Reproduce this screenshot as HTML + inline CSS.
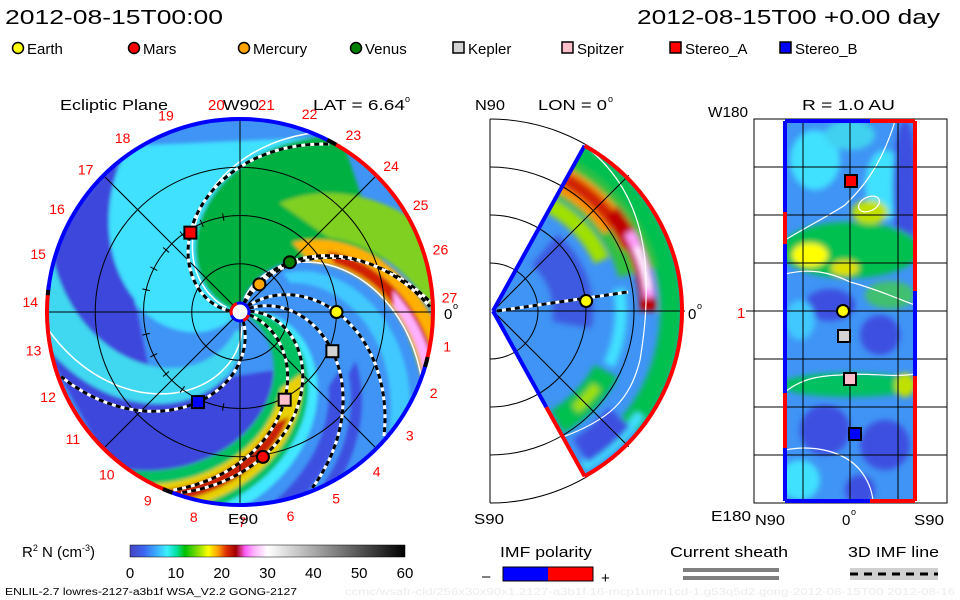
<!DOCTYPE html>
<html><head><meta charset="utf-8"><style>
html,body{margin:0;padding:0;background:#fff;}
svg{display:block;font-family:"Liberation Sans",sans-serif;}
</style></head><body>
<svg id="root" width="960" height="600" viewBox="0 0 960 600" xmlns="http://www.w3.org/2000/svg">
<defs>
  <filter id="blur2" x="-10%" y="-10%" width="120%" height="120%"><feGaussianBlur stdDeviation="1.8"/></filter>
  <filter id="blur3" x="-20%" y="-20%" width="140%" height="140%"><feGaussianBlur stdDeviation="3"/></filter>
  <clipPath id="eclClip"><circle cx="240" cy="312" r="193"/></clipPath>
  <clipPath id="merClip"><path id="merWedgeP" d=""/></clipPath>
  <clipPath id="rClip"><rect x="785" y="121" width="130" height="380"/></clipPath>
  <linearGradient id="cbar" x1="0" x2="1" y1="0" y2="0">
    <stop offset="0" stop-color="#4646c0"/><stop offset="0.05" stop-color="#3c64f0"/>
    <stop offset="0.1" stop-color="#3cb4ff"/><stop offset="0.135" stop-color="#3cf0ff"/>
    <stop offset="0.17" stop-color="#00e0a0"/><stop offset="0.2" stop-color="#00c000"/>
    <stop offset="0.25" stop-color="#90e000"/><stop offset="0.285" stop-color="#ffff00"/>
    <stop offset="0.32" stop-color="#ffa000"/><stop offset="0.35" stop-color="#e03000"/>
    <stop offset="0.385" stop-color="#a00000"/><stop offset="0.42" stop-color="#ff60ff"/>
    <stop offset="0.45" stop-color="#ffb0ff"/><stop offset="0.5" stop-color="#ffffff"/>
    <stop offset="1" stop-color="#000000"/>
  </linearGradient>
</defs>

<text x="5" y="24" font-size="20" textLength="218" lengthAdjust="spacingAndGlyphs">2012-08-15T00:00</text>
<text x="637" y="24" font-size="20" textLength="303" lengthAdjust="spacingAndGlyphs">2012-08-15T00 +0.00 day</text>
<g id="legend"></g>

<g id="ecl">
  <g clip-path="url(#eclClip)">
    <circle cx="240" cy="312" r="193" fill="#3f94f5"/>
    <g id="eclBands" filter="url(#blur2)"></g>
    <g id="eclContours"></g>
  </g>
  <g id="eclGrid" stroke="#000" stroke-width="1" fill="none"></g>
  <g id="eclLines"></g>
  <g id="eclRim"></g>
  <g id="eclLabels" font-size="14" fill="#ff0000"></g>
  <g id="eclMarkers"></g>
</g>
<text x="60" y="110" font-size="15" textLength="108" lengthAdjust="spacingAndGlyphs">Ecliptic Plane</text>
<text x="208" y="110" font-size="15" fill="#ff0000">20</text>
<text x="223" y="110" font-size="15" textLength="36" lengthAdjust="spacingAndGlyphs">W90</text>
<text x="258" y="110" font-size="15" fill="#ff0000">21</text>
<text x="313" y="110" font-size="15" textLength="92" lengthAdjust="spacingAndGlyphs">LAT = 6.64</text>
<text x="405" y="102" font-size="9">o</text>
<text x="444" y="319" font-size="15">0</text><text x="453" y="309" font-size="9">o</text>
<text x="228" y="524" font-size="15" textLength="30" lengthAdjust="spacingAndGlyphs">E90</text>

<g id="mer">
  <g clip-path="url(#merClip)">
    <rect x="480" y="100" width="220" height="420" fill="#3f94f5"/>
    <g id="merBands" filter="url(#blur3)"></g>
    <g id="merContours"></g>
  </g>
  <g id="merGrid" stroke="#000" stroke-width="1" fill="none"></g>
  <g id="merRim"></g>
  <g id="merMarkers"></g>
</g>
<text x="475" y="110" font-size="15" textLength="30" lengthAdjust="spacingAndGlyphs">N90</text>
<text x="538" y="110" font-size="15" textLength="69" lengthAdjust="spacingAndGlyphs">LON = 0</text>
<text x="608" y="102" font-size="9">o</text>
<text x="688" y="319" font-size="15">0</text><text x="697" y="309" font-size="9">o</text>
<text x="474" y="524" font-size="15" textLength="30" lengthAdjust="spacingAndGlyphs">S90</text>

<g id="rpan">
  <g clip-path="url(#rClip)">
    <rect x="785" y="121" width="130" height="380" fill="#3f94f5"/>
    <g id="rBands" filter="url(#blur3)"></g>
    <g id="rContours" stroke="#fff" stroke-width="1.2" fill="none">
      <path d="M785 240 C810 225 830 215 845 205 C860 190 880 170 895 121"/>
      <path d="M785 274 C810 268 830 272 850 282 C880 290 900 300 915 305"/>
      <ellipse cx="869" cy="204" rx="11" ry="7" transform="rotate(-25 869 204)"/>
      <path d="M785 392 C800 380 815 376 840 375 C870 372 890 378 915 374"/>
      <path d="M785 450 C815 444 845 452 860 470 C868 480 872 490 873 501"/>
    </g>
  </g>
  <g id="rGrid" stroke="#000" stroke-width="1" fill="none"></g>
  <g id="rRim"></g>
  <g id="rMarkers"></g>
</g>
<text x="708" y="117" font-size="15" textLength="40" lengthAdjust="spacingAndGlyphs">W180</text>
<text x="802" y="110" font-size="15" textLength="93" lengthAdjust="spacingAndGlyphs">R = 1.0 AU</text>
<text x="737" y="318" font-size="15" fill="#ff0000">1</text>
<text x="711" y="521" font-size="15" textLength="40" lengthAdjust="spacingAndGlyphs">E180</text>
<text x="755" y="525" font-size="15" textLength="30" lengthAdjust="spacingAndGlyphs">N90</text>
<text x="842" y="525" font-size="15">0</text><text x="851" y="515" font-size="9">o</text>
<text x="914" y="525" font-size="15" textLength="30" lengthAdjust="spacingAndGlyphs">S90</text>

<text x="22" y="557" font-size="15">R<tspan dy="-6" font-size="9">2</tspan><tspan dy="6"> N (cm</tspan><tspan dy="-6" font-size="9">-3</tspan><tspan dy="6">)</tspan></text>
<rect x="130" y="545" width="275" height="12" fill="url(#cbar)" stroke="#000" stroke-width="0.5"/>
<g id="cbTicks" font-size="15"></g>

<text x="500" y="557" font-size="15" textLength="92" lengthAdjust="spacingAndGlyphs">IMF polarity</text>
<text x="482" y="581" font-size="15">–</text>
<rect x="503" y="567" width="45" height="14" fill="#0000ff"/>
<rect x="548" y="567" width="45" height="14" fill="#ff0000"/>
<rect x="503" y="567" width="90" height="14" fill="none" stroke="#000" stroke-width="1"/>
<text x="601" y="583" font-size="15">+</text>

<text x="670" y="557" font-size="15" textLength="118" lengthAdjust="spacingAndGlyphs">Current sheath</text>
<rect x="683" y="568" width="96" height="4" fill="#808080"/>
<rect x="683" y="576" width="96" height="4" fill="#808080"/>

<text x="848" y="557" font-size="15" textLength="91" lengthAdjust="spacingAndGlyphs">3D IMF line</text>
<rect x="850" y="568" width="88" height="12" fill="#d0d0d0"/>
<line x1="850" y1="574" x2="938" y2="574" stroke="#000" stroke-width="3" stroke-dasharray="8 6"/>

<text x="5" y="595" font-size="10" textLength="292" lengthAdjust="spacingAndGlyphs">ENLIL-2.7 lowres-2127-a3b1f WSA_V2.2 GONG-2127</text>
<text x="345" y="595" font-size="10" fill="#ececec" textLength="610" lengthAdjust="spacingAndGlyphs">ccmc/wsafr-cld/256x30x90x1.2127-a3b1f.16-mcp1umn1cd-1.g53q5d2.gong-2012-08-15T00   2012-08-16</text>
</svg>

<script>
// ---- data ----
const bodyNames = ["Earth","Mars","Mercury","Venus","Kepler","Spitzer","Stereo_A","Stereo_B"];
const bodyColors = ["#ffff00","#ff0000","#ffa500","#008000","#d3d3d3","#ffc0cb","#ff0000","#0000ff"];
const bodyShapes = ["c","c","c","c","s","s","s","s"];
const bodyRadiusAU = [1.00, 1.52, 0.35, 0.73, 1.04, 1.02, 0.97, 1.03];
const bodyLonDeg = [0, -81, 55, 45, -23, -63, 122, -115];
const lineWindingDegPerAU = [42, 60, 32, 35, 48, 50, 60, 48];
const bodyLatYpx = [311, null, null, null, 336, 379, 181, 434];
const fieldLineBodies = ["Earth","Mars","Mercury","Venus","Kepler","Spitzer","Stereo_A","Stereo_B"];
const carringtonLabels = [1,2,3,4,5,6,7,8,9,10,11,12,13,14,15,16,17,18,19,22,23,24,25,26,27];
const colorbarTicks = [0,10,20,30,40,50,60];
const colorbarMax = 60;
const bandWinding = 50;
const bandFootFrom = [165, 228, 265, 292, 335, 343, 347, 5, 20, 82, 100, 80, 82, 82, 60, 35];
const bandFootTo   = [230, 265, 292, 335, 365, 360, 355, 12, 30, 165, 130, 98, 90, 88, 72, 42];
const bandRMin     = [0.05, 1.1, 0.2, 0.7, 0.1, 0.9, 1.2, 0.1, 1.2, 0.05, 1.2, 0.9, 1.1, 1.6, 0.6, 1.3];
const bandRMax     = [2.1, 2.1, 2.1, 2.1, 2.1, 2.1, 2.1, 2.1, 2.1, 2.1, 2.1, 2.1, 2.1, 2.1, 2.1, 2.1];
const bandColor    = ["#40e0ff","#3c46dc","#40d8f0","#3c46dc","#00c060","#e8d000","#c82000","#40e8ff","#3c50e0","#00b040","#80d020","#ffb000","#d02000","#ffb0ff","#40c8ff","#3c50e0"];
const rimFrom = [173.5, 248, 345, 61.6];
const rimTo   = [248, 345, 421.6, 173.5];
const rimPol  = ["+","-","+","-"];

const NS="http://www.w3.org/2000/svg";
const CX=240, CY=312, S=96.5, RMAX=2.0;
function mk(tag, attrs, parent){const e=document.createElementNS(NS,tag);for(const k in attrs)e.setAttribute(k,attrs[k]);parent.appendChild(e);return e;}
function xy(rAU, phiDeg){const p=phiDeg*Math.PI/180;return [CX+rAU*S*Math.cos(p), CY-rAU*S*Math.sin(p)];}
function spiralPts(footDeg, w, r1, r2){const pts=[];const n=60;for(let i=0;i<=n;i++){const r=r1+(r2-r1)*i/n;pts.push(xy(r, footDeg - w*r));}return pts;}
function ptsStr(p){return p.map(q=>q[0].toFixed(1)+","+q[1].toFixed(1)).join(" ");}

const leg=document.getElementById('legend');
const legX=[12,128,238,350,453,562,670,780];
for(let i=0;i<bodyNames.length;i++){
  let m;
  if(bodyShapes[i]==="c") m=mk('circle',{cx:legX[i]+6,cy:48,r:5.5,fill:bodyColors[i],stroke:'#000','stroke-width':1.5},leg);
  else m=mk('rect',{x:legX[i],y:42,width:11,height:11,fill:bodyColors[i],stroke:'#000','stroke-width':1.5},leg);
  
  
  const t=mk('text',{x:legX[i]+15,y:54,'font-size':15},leg);
  t.textContent=bodyNames[i];
  
  
}

const eb=document.getElementById('eclBands');
for(let i=0;i<bandFootFrom.length;i++){
  const a=spiralPts(bandFootFrom[i],bandWinding,bandRMin[i],bandRMax[i]);
  const b=spiralPts(bandFootTo[i],bandWinding,bandRMin[i],bandRMax[i]).reverse();
  const p=mk('polygon',{points:ptsStr(a.concat(b)),fill:bandColor[i]},eb);
  
  
}
const ec=document.getElementById('eclContours');
[80,168,285].forEach(f=>{
  const p=mk('polyline',{points:ptsStr(spiralPts(f,bandWinding,0.15,2.1)),fill:'none',stroke:'#fff','stroke-width':1.5},ec);
  
  
});

const eg=document.getElementById('eclGrid');
[0.5,1.0,1.5].forEach(r=>mk('circle',{cx:CX,cy:CY,r:r*S},eg));
for(let a=0;a<180;a+=45){const p=xy(RMAX,a),q=xy(RMAX,a+180);mk('line',{x1:p[0],y1:p[1],x2:q[0],y2:q[1]},eg);}
for(let a=100;a<=260;a+=13.33){const p=xy(0.96,a),q=xy(1.04,a);mk('line',{x1:p[0],y1:p[1],x2:q[0],y2:q[1]},eg);}

const el=document.getElementById('eclLines');
fieldLineBodies.forEach(nm=>{
  const i=bodyNames.indexOf(nm);
  const w=lineWindingDegPerAU[i];
  const f=bodyLonDeg[i]+w*bodyRadiusAU[i];
  const pts=ptsStr(spiralPts(f,w,0.1,1.97));
  mk('polyline',{points:pts,fill:'none',stroke:'#fff','stroke-width':3},el);
  const d=mk('polyline',{points:pts,fill:'none',stroke:'#000','stroke-width':3,'stroke-dasharray':'5 4'},el);
  
  
});

const er=document.getElementById('eclRim');
function arcD(cx,cy,r,a1,a2){const p1=[cx+r*Math.cos(a1*Math.PI/180),cy-r*Math.sin(a1*Math.PI/180)],p2=[cx+r*Math.cos(a2*Math.PI/180),cy-r*Math.sin(a2*Math.PI/180)];const large=(a2-a1)>180?1:0;return `M${p1[0]},${p1[1]} A${r},${r} 0 ${large} 0 ${p2[0]},${p2[1]}`;}
for(let i=0;i<rimFrom.length;i++){
  const p=mk('path',{d:arcD(CX,CY,193,rimFrom[i],rimTo[i]),fill:'none',stroke:rimPol[i]==='+'?'#ff0000':'#0000ff','stroke-width':4},er);
  
  
  mk('path',{d:arcD(CX,CY,193,rimFrom[i]-1.5,rimFrom[i]+1.5),fill:'none',stroke:'#000','stroke-width':4},er);
}
mk('circle',{cx:CX,cy:CY,r:9,fill:'#fff',stroke:'#0000ff','stroke-width':3},er);
mk('path',{d:arcD(CX,CY,9,110,200),fill:'none',stroke:'#ff0000','stroke-width':3},er);
mk('path',{d:arcD(CX,CY,9,290,340),fill:'none',stroke:'#ff0000','stroke-width':3},er);

const lab=document.getElementById('eclLabels');
carringtonLabels.forEach(n=>{
  const a=(4+13.33*(27-n))*Math.PI/180;
  const x=CX+210*Math.cos(a), y=CY-210*Math.sin(a);
  const t=mk('text',{x:x,y:y+5,'text-anchor':'middle'},lab);
  t.textContent=String(n);
  
  
});

function marker(g,i,x,y){
  let m;
  if(bodyShapes[i]==='c') m=mk('circle',{cx:x,cy:y,r:6,fill:bodyColors[i],stroke:'#000','stroke-width':2},g);
  else m=mk('rect',{x:x-6,y:y-6,width:12,height:12,fill:bodyColors[i],stroke:'#000','stroke-width':2},g);
  
  
}
const em=document.getElementById('eclMarkers');
for(let i=0;i<bodyNames.length;i++){const p=xy(bodyRadiusAU[i],bodyLonDeg[i]);marker(em,i,p[0],p[1]);}

// ---- meridional panel ----
const MX=493, MY=311, MR=189;
function mp(r,a){return [MX+r*Math.cos(a*Math.PI/180), MY-r*Math.sin(a*Math.PI/180)];}
const c1=mp(MR,61),c2=mp(MR,-61);
document.getElementById('merWedgeP').setAttribute('d',`M${MX},${MY} L${c1[0]},${c1[1]} A${MR},${MR} 0 0 1 ${c2[0]},${c2[1]} Z`);
const mb=document.getElementById('merBands');
function ringArc(g,r,w,a1,a2,col){const p1=mp(r,a2),p2=mp(r,a1);return mk('path',{d:`M${p1[0]},${p1[1]} A${r},${r} 0 0 1 ${p2[0]},${p2[1]}`,fill:'none',stroke:col,'stroke-width':w},g);}
ringArc(mb,178,22,-40,70,'#00c050');
ringArc(mb,180,10,-60,-35,'#40e0ff');
ringArc(mb,150,40,15,70,'#30c040');
ringArc(mb,148,26,35,70,'#ff9000');
ringArc(mb,150,14,25,62,'#d02000');
ringArc(mb,155,16,0,40,'#c00000');
ringArc(mb,157,10,5,30,'#ffa0ff');
ringArc(mb,157,5,8,24,'#ffffff');
ringArc(mb,120,16,25,70,'#a0e000');
ringArc(mb,128,12,-25,10,'#40e0ff');
ringArc(mb,128,26,-60,-28,'#00c050');
ringArc(mb,128,10,-50,-36,'#a0e000');
ringArc(mb,80,40,-10,50,'#3c5ae0');
ringArc(mb,165,28,-58,-40,'#3c50e0');
const mc=mk('path',{d:"M590 150 C620 175 640 210 645 260 C648 300 645 330 640 360 C630 400 610 420 560 438 C545 445 535 452 520 460",fill:'none',stroke:'#fff','stroke-width':1.2},document.getElementById('merContours'));



const mg=document.getElementById('merGrid');
mk('line',{x1:490,y1:119,x2:490,y2:503},mg);
[48,96,144,192].forEach(r=>mk('path',{d:`M490,${MY-r} A${r},${r} 0 0 1 490,${MY+r}`},mg));
mk('line',{x1:MX,y1:MY,x2:MX+192,y2:MY},mg);
[45,-45].forEach(a=>{const p=mp(192,a);mk('line',{x1:MX,y1:MY,x2:p[0],y2:p[1]},mg);});
const mr=document.getElementById('merRim');
mk('path',{d:`M${MX},${MY} L${c1[0]},${c1[1]}`,stroke:'#0000ff','stroke-width':4,fill:'none'},mr);
const mm=mp(110,-61);
mk('path',{d:`M${MX},${MY} L${mm[0]},${mm[1]}`,stroke:'#0000ff','stroke-width':4,fill:'none'},mr);
mk('path',{d:`M${mm[0]},${mm[1]} L${c2[0]},${c2[1]}`,stroke:'#ff0000','stroke-width':4,fill:'none'},mr);
const rimM=mk('path',{d:`M${c1[0]},${c1[1]} A${MR},${MR} 0 0 1 ${c2[0]},${c2[1]}`,stroke:'#ff0000','stroke-width':4,fill:'none'},mr);


const ei=bodyNames.indexOf('Earth');
const ex=MX+bodyRadiusAU[ei]*S*0.965, ey=301;
mk('line',{x1:MX+4,y1:MY,x2:628,y2:292,stroke:'#fff','stroke-width':3},mr);
mk('line',{x1:MX+4,y1:MY,x2:628,y2:292,stroke:'#000','stroke-width':3,'stroke-dasharray':'5 4'},mr);
marker(document.getElementById('merMarkers'),ei,ex,ey);

// ---- R = 1 AU panel ----
const rb=document.getElementById('rBands');
const rPatches=[
 [815,160,25,30,'#40e0ff'],[885,185,20,35,'#40e0ff'],[905,190,12,70,'#3c50e0'],[850,135,25,15,'#40d0f0'],
 [850,250,70,28,'#00c050'],[810,255,18,12,'#ffff00'],[845,268,14,8,'#e0e000'],[870,212,18,12,'#c0e000'],
 [890,295,25,14,'#40c070'],[830,305,25,16,'#3c50e0'],[880,335,20,20,'#3c50e0'],[800,320,15,20,'#40c8ff'],
 [850,385,70,12,'#00c060'],[905,385,10,12,'#c0e000'],[825,430,25,25,'#3c50e0'],[885,445,25,25,'#3c50e0'],
 [800,480,20,20,'#40e0ff'],[860,490,15,15,'#3c50e0']
];
rPatches.forEach(p=>mk('ellipse',{cx:p[0],cy:p[1],rx:p[2],ry:p[3],fill:p[4]},rb));
const rg=document.getElementById('rGrid');
mk('rect',{x:754,y:119,width:193,height:384},rg);
for(let y=167;y<=455;y+=48) mk('line',{x1:754,y1:y,x2:947,y2:y},rg);
[803,850,898].forEach(x=>mk('line',{x1:x,y1:119,x2:x,y2:503},rg));
mk('line',{x1:746,y1:311,x2:754,y2:311},rg);
const rr=document.getElementById('rRim');
const rimSegs=[[785,121,785,212,'#0000ff'],[785,212,785,244,'#ff0000'],[785,244,785,393,'#0000ff'],[785,393,785,448,'#ff0000'],[785,448,785,501,'#0000ff'],
 [915,121,915,291,'#ff0000'],[915,291,915,376,'#0000ff'],[915,376,915,501,'#ff0000'],
 [785,121,870,121,'#0000ff'],[870,121,915,121,'#ff0000'],[785,501,870,501,'#0000ff'],[870,501,915,501,'#ff0000']];
rimSegs.forEach(s=>mk('line',{x1:s[0],y1:s[1],x2:s[2],y2:s[3],stroke:s[4],'stroke-width':4},rr));
const rm=document.getElementById('rMarkers');
const rX=[843,null,null,null,844,850,851,855];
for(let i=0;i<bodyNames.length;i++){ if(bodyLatYpx[i]!==null) marker(rm,i,rX[i],bodyLatYpx[i]); }

const cb=document.getElementById('cbTicks');
colorbarTicks.forEach(v=>{
  const x=130+275*v/colorbarMax;
  const t=mk('text',{x:x,y:578,'text-anchor':'middle'},cb);
  t.textContent=String(v);
  
  
});
</script>
</body></html>
